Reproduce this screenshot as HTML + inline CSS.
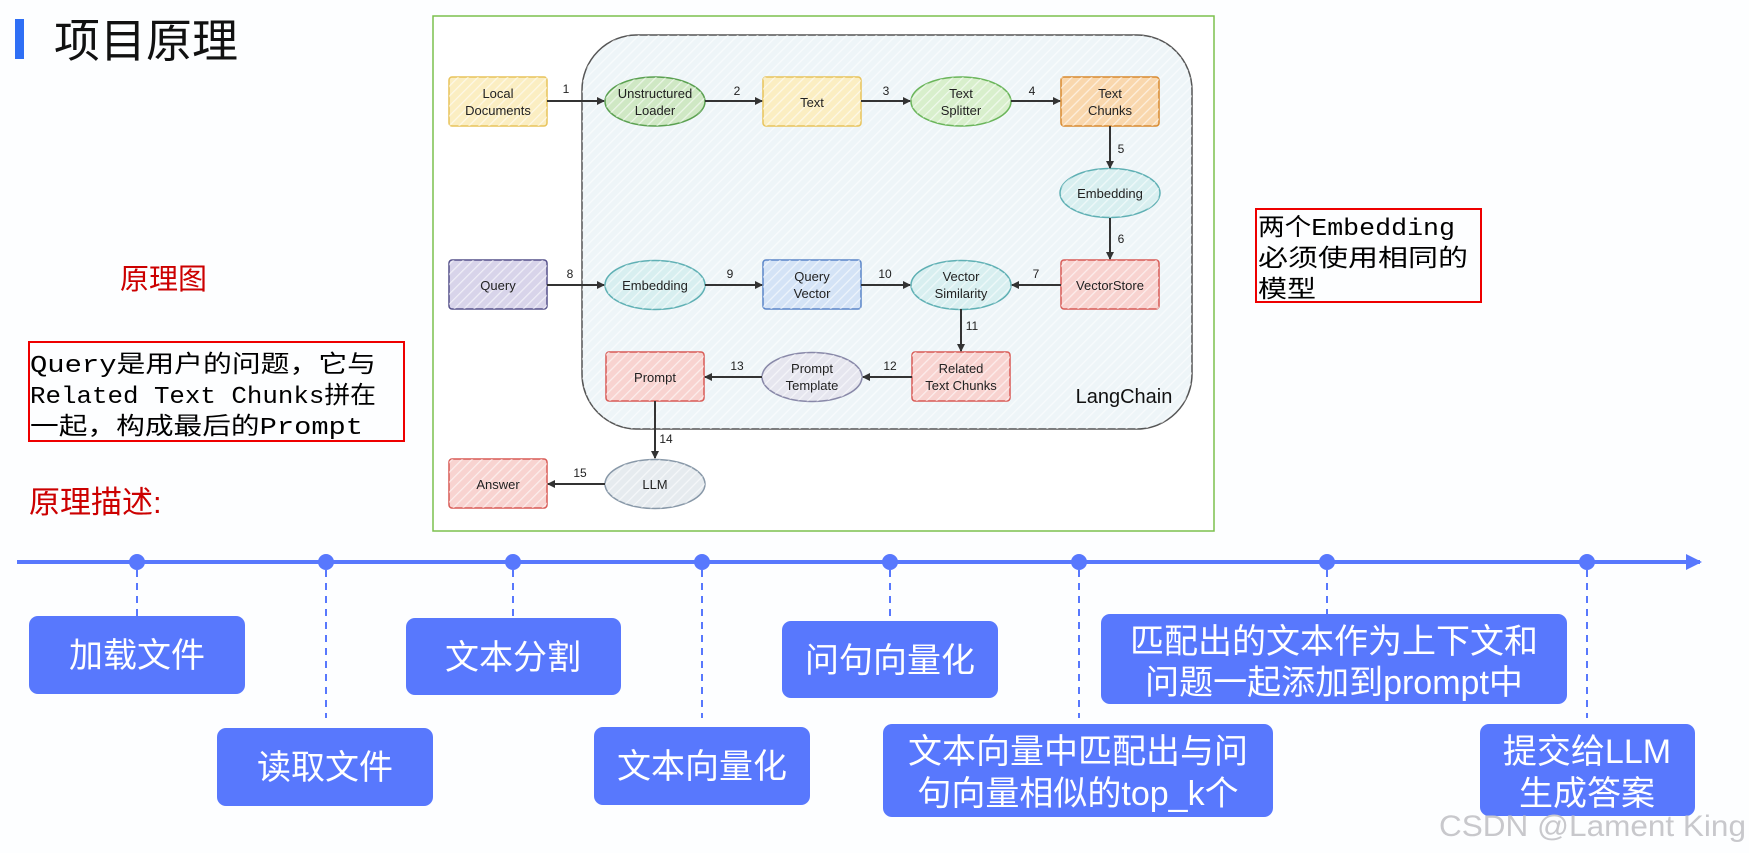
<!DOCTYPE html>
<html><head><meta charset="utf-8"><style>
html,body{margin:0;padding:0;background:#fdfeff;}
svg{display:block;}
.cjk{font-family:"Liberation Sans","Noto Sans CJK SC",sans-serif;}
.n{font-family:"Liberation Sans",sans-serif;font-size:13px;fill:#222;text-anchor:middle;}
.num{font-family:"Liberation Sans",sans-serif;font-size:12px;fill:#222;text-anchor:middle;}
.bt{font-family:"Liberation Sans","Noto Sans CJK SC",sans-serif;font-size:34px;fill:#fff;text-anchor:middle;}
.mono{font-family:"Liberation Mono","Noto Sans CJK SC",monospace;font-size:24px;fill:#000;}
</style></head><body>
<svg width="1749" height="853" viewBox="0 0 1749 853" xmlns="http://www.w3.org/2000/svg">
<defs>
<pattern id="h" width="7" height="7" patternUnits="userSpaceOnUse" patternTransform="rotate(45)"><line x1="0" y1="0" x2="0" y2="7" stroke="#fff" stroke-width="2.5" opacity="0.6"/></pattern>
<marker id="a" markerWidth="8" markerHeight="8" refX="7" refY="4" orient="auto" markerUnits="userSpaceOnUse"><path d="M0,0 L8,4 L0,8 z" fill="#333"/></marker>
<marker id="ta" markerWidth="16" markerHeight="16" refX="14" refY="8" orient="auto" markerUnits="userSpaceOnUse"><path d="M0,0 L16,8 L0,16 z" fill="#5878fd"/></marker>
</defs>
<rect width="1749" height="853" fill="#fdfeff"/>
<!-- title -->
<rect x="15" y="19" width="9" height="40" fill="#2f6ff5"/>
<text x="54" y="57" class="cjk" font-size="46" fill="#111">项目原理</text>
<text x="120" y="289" class="cjk" font-size="29" fill="#c00">原理图</text>
<rect x="29" y="342" width="375" height="99" fill="none" stroke="#e00" stroke-width="2"/>
<text class="mono" x="30" y="372" textLength="346" lengthAdjust="spacingAndGlyphs">Query是用户的问题，它与</text>
<text class="mono" x="30" y="403" textLength="346" lengthAdjust="spacingAndGlyphs">Related Text Chunks拼在</text>
<text class="mono" x="30" y="434" textLength="333" lengthAdjust="spacingAndGlyphs">一起，构成最后的Prompt</text>
<text x="29" y="513" class="cjk" font-size="31" fill="#c00">原理描述:</text>
<rect x="1256" y="209" width="225" height="93" fill="none" stroke="#e00" stroke-width="2"/>
<text class="mono" x="1258" y="235" textLength="197" lengthAdjust="spacingAndGlyphs">两个Embedding</text>
<text class="mono" x="1258" y="266" textLength="210" lengthAdjust="spacingAndGlyphs">必须使用相同的</text>
<text class="mono" x="1258" y="297" textLength="58" lengthAdjust="spacingAndGlyphs">模型</text>

<!-- diagram frame -->
<rect x="433" y="16" width="781" height="515" fill="#fff" stroke="#7cc04e" stroke-width="1.5"/>
<rect x="582" y="35" width="610" height="394" rx="55" fill="#eef5f8" stroke="#555" stroke-width="1.5"/>
<rect x="582" y="35" width="610" height="394" rx="55" fill="url(#h)"/>
<text x="1124" y="403" font-family="Liberation Sans,sans-serif" font-size="20" fill="#111" text-anchor="middle">LangChain</text>

<!-- nodes -->
<g stroke-width="1.5">
<rect x="449" y="77" width="98" height="49" rx="3" fill="#fbeec2" stroke="#e8c35a"/>
<ellipse cx="655" cy="101.5" rx="50" ry="24.5" fill="#cfe8c4" stroke="#5aa050"/>
<rect x="763" y="77" width="98" height="49" rx="3" fill="#fbeec2" stroke="#e8c35a"/>
<ellipse cx="961" cy="101.5" rx="50" ry="24.5" fill="#d8efcc" stroke="#6ab55a"/>
<rect x="1061" y="77" width="98" height="49" rx="3" fill="#f9d7ad" stroke="#d98a2e"/>
<ellipse cx="1110" cy="193" rx="50" ry="24.5" fill="#d8eff0" stroke="#5fb0b4"/>
<rect x="449" y="260" width="98" height="49" rx="3" fill="#d8d4ea" stroke="#55508a"/>
<ellipse cx="655" cy="285" rx="50" ry="24.5" fill="#d8eff0" stroke="#5fb0b4"/>
<rect x="763" y="260" width="98" height="49" rx="3" fill="#d4e3f6" stroke="#5a85c8"/>
<ellipse cx="961" cy="285" rx="50" ry="24.5" fill="#d8eff0" stroke="#5fb0b4"/>
<rect x="1061" y="260" width="98" height="49" rx="3" fill="#f8d3d0" stroke="#d85a55"/>
<rect x="606" y="352" width="98" height="49" rx="3" fill="#f8d3d0" stroke="#d85a55"/>
<ellipse cx="812" cy="377" rx="50" ry="24.5" fill="#e6e6ef" stroke="#8888a8"/>
<rect x="912" y="352" width="98" height="49" rx="3" fill="#f8d3d0" stroke="#d85a55"/>
<rect x="449" y="459" width="98" height="49" rx="3" fill="#f8d3d0" stroke="#d85a55"/>
<ellipse cx="655" cy="484" rx="50" ry="24.5" fill="#e6ebef" stroke="#8898a8"/>
</g>
<g fill="url(#h)">
<rect x="449" y="77" width="98" height="49"/><ellipse cx="655" cy="101.5" rx="50" ry="24.5"/><rect x="763" y="77" width="98" height="49"/><ellipse cx="961" cy="101.5" rx="50" ry="24.5"/><rect x="1061" y="77" width="98" height="49"/><ellipse cx="1110" cy="193" rx="50" ry="24.5"/><rect x="449" y="260" width="98" height="49"/><ellipse cx="655" cy="285" rx="50" ry="24.5"/><rect x="763" y="260" width="98" height="49"/><ellipse cx="961" cy="285" rx="50" ry="24.5"/><rect x="1061" y="260" width="98" height="49"/><rect x="606" y="352" width="98" height="49"/><ellipse cx="812" cy="377" rx="50" ry="24.5"/><rect x="912" y="352" width="98" height="49"/><rect x="449" y="459" width="98" height="49"/><ellipse cx="655" cy="484" rx="50" ry="24.5"/>
</g>
<g class="n">
<text x="498" y="98" class="n">Local</text><text x="498" y="115" class="n">Documents</text>
<text x="655" y="98" class="n">Unstructured</text><text x="655" y="115" class="n">Loader</text>
<text x="812" y="107" class="n">Text</text>
<text x="961" y="98" class="n">Text</text><text x="961" y="115" class="n">Splitter</text>
<text x="1110" y="98" class="n">Text</text><text x="1110" y="115" class="n">Chunks</text>
<text x="1110" y="198" class="n">Embedding</text>
<text x="498" y="290" class="n">Query</text>
<text x="655" y="290" class="n">Embedding</text>
<text x="812" y="281" class="n">Query</text><text x="812" y="298" class="n">Vector</text>
<text x="961" y="281" class="n">Vector</text><text x="961" y="298" class="n">Similarity</text>
<text x="1110" y="290" class="n">VectorStore</text>
<text x="655" y="382" class="n">Prompt</text>
<text x="812" y="373" class="n">Prompt</text><text x="812" y="390" class="n">Template</text>
<text x="961" y="373" class="n">Related</text><text x="961" y="390" class="n">Text Chunks</text>
<text x="498" y="489" class="n">Answer</text>
<text x="655" y="489" class="n">LLM</text>
</g>
<!-- arrows -->
<g stroke="#333" stroke-width="2" fill="none" marker-end="url(#a)">
<line x1="547" y1="101" x2="604" y2="101"/>
<line x1="705" y1="101" x2="762" y2="101"/>
<line x1="861" y1="101" x2="910" y2="101"/>
<line x1="1011" y1="101" x2="1060" y2="101"/>
<line x1="1110" y1="126" x2="1110" y2="168"/>
<line x1="1110" y1="218" x2="1110" y2="259"/>
<line x1="547" y1="285" x2="604" y2="285"/>
<line x1="705" y1="285" x2="762" y2="285"/>
<line x1="861" y1="285" x2="910" y2="285"/>
<line x1="1061" y1="285" x2="1012" y2="285"/>
<line x1="961" y1="309" x2="961" y2="351"/>
<line x1="912" y1="377" x2="863" y2="377"/>
<line x1="762" y1="377" x2="705" y2="377"/>
<line x1="655" y1="401" x2="655" y2="458"/>
<line x1="605" y1="484" x2="548" y2="484"/>
</g>
<g>
<text class="num" x="566" y="93">1</text><text class="num" x="737" y="95">2</text><text class="num" x="886" y="95">3</text><text class="num" x="1032" y="95">4</text>
<text class="num" x="1121" y="153">5</text><text class="num" x="1121" y="243">6</text>
<text class="num" x="570" y="278">8</text><text class="num" x="730" y="278">9</text><text class="num" x="885" y="278">10</text><text class="num" x="1036" y="278">7</text>
<text class="num" x="972" y="330">11</text><text class="num" x="890" y="370">12</text><text class="num" x="737" y="370">13</text>
<text class="num" x="666" y="443">14</text><text class="num" x="580" y="477">15</text>
</g>

<!-- timeline -->
<line x1="17" y1="562" x2="1700" y2="562" stroke="#5878fd" stroke-width="4" marker-end="url(#ta)"/>
<g fill="#5878fd">
<ellipse cx="137" cy="562" rx="8" ry="8"/><ellipse cx="326" cy="562" rx="8" ry="8"/><ellipse cx="513" cy="562" rx="8" ry="8"/><ellipse cx="702" cy="562" rx="8" ry="8"/><ellipse cx="890" cy="562" rx="8" ry="8"/><ellipse cx="1079" cy="562" rx="8" ry="8"/><ellipse cx="1327" cy="562" rx="8" ry="8"/><ellipse cx="1587" cy="562" rx="8" ry="8"/>
</g>
<g stroke="#5878fd" stroke-width="2" stroke-dasharray="7,6">
<line x1="137" y1="570" x2="137" y2="616"/><line x1="326" y1="570" x2="326" y2="718"/><line x1="513" y1="570" x2="513" y2="618"/><line x1="702" y1="570" x2="702" y2="718"/><line x1="890" y1="570" x2="890" y2="621"/><line x1="1079" y1="570" x2="1079" y2="718"/><line x1="1327" y1="570" x2="1327" y2="614"/><line x1="1587" y1="570" x2="1587" y2="718"/>
</g>
<g fill="#5878fd">
<rect x="29" y="616" width="216" height="78" rx="9"/>
<rect x="406" y="618" width="215" height="77" rx="9"/>
<rect x="782" y="621" width="216" height="77" rx="9"/>
<rect x="1101" y="614" width="466" height="90" rx="9"/>
<rect x="217" y="728" width="216" height="78" rx="9"/>
<rect x="594" y="727" width="216" height="78" rx="9"/>
<rect x="883" y="724" width="390" height="93" rx="9"/>
<rect x="1480" y="724" width="215" height="92" rx="9"/>
</g>
<text class="bt" x="137" y="667">加载文件</text>
<text class="bt" x="513" y="669">文本分割</text>
<text class="bt" x="890" y="672">问句向量化</text>
<text class="bt" x="1334" y="653">匹配出的文本作为上下文和</text>
<text class="bt" x="1334" y="694">问题一起添加到prompt中</text>
<text class="bt" x="325" y="779">读取文件</text>
<text class="bt" x="702" y="778">文本向量化</text>
<text class="bt" x="1078" y="763">文本向量中匹配出与问</text>
<text class="bt" x="1078" y="805">句向量相似的top_k个</text>
<text class="bt" x="1587" y="763">提交给LLM</text>
<text class="bt" x="1587" y="805">生成答案</text>
<text x="1439" y="836" font-family="Liberation Sans,sans-serif" font-size="30" fill="#c8c8cc" textLength="307" lengthAdjust="spacingAndGlyphs">CSDN @Lament King</text>
</svg>
</body></html>
